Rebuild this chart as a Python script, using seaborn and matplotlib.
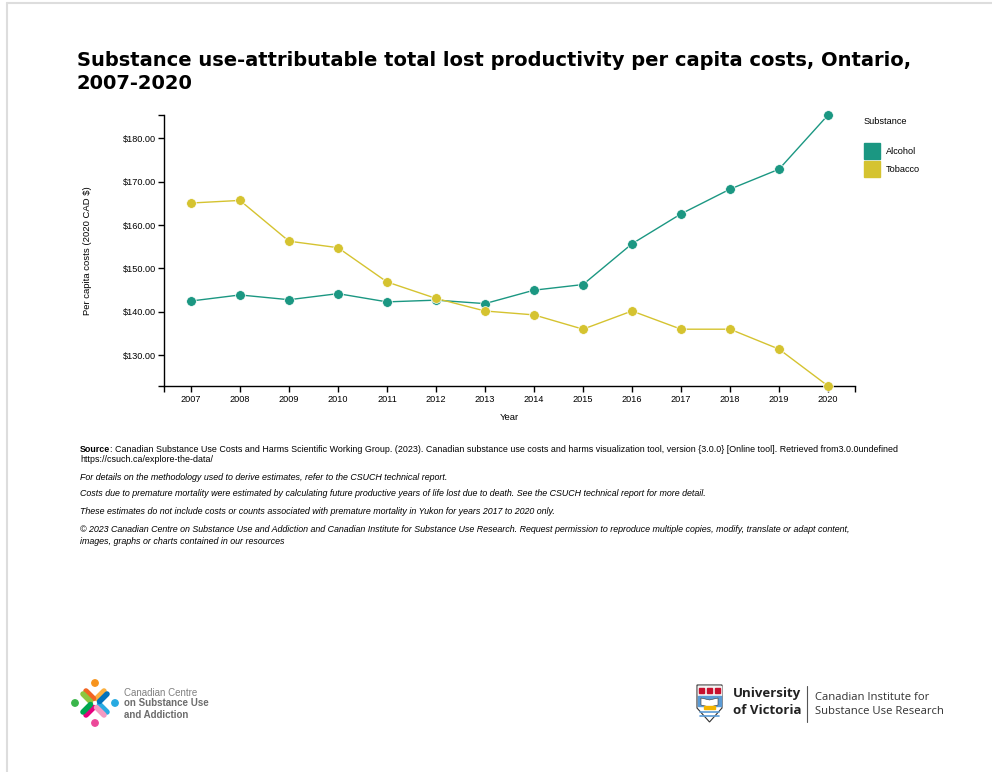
import numpy as np
import pandas as pd
import matplotlib
matplotlib.use("Agg")
import matplotlib.pyplot as plt
import seaborn as sns
from matplotlib.patches import Rectangle, Polygon, Circle
from matplotlib.lines import Line2D

# ── Données ─────────────────────────────────────────────────────
years = list(range(2007, 2021))
alcohol = [142.5, 143.9, 142.8, 144.2, 142.3, 142.7, 141.9,
           145.0, 146.3, 155.7, 162.6, 168.3, 172.9, 185.4]
tobacco = [165.1, 165.7, 156.3, 154.8, 146.9, 143.1, 140.2,
           139.3, 136.0, 140.2, 136.0, 136.0, 131.4, 122.9]
substances = ["Alcohol", "Tobacco"]
colors = ["#1b9782", "#d5c330"]
y_ticks = [130, 140, 150, 160, 170, 180]

df = pd.DataFrame({
    "Year": years * 2,
    "cost": alcohol + tobacco,
    "Substance": ["Alcohol"] * len(years) + ["Tobacco"] * len(years),
})

sns.set_style("white")
plt.rcParams["font.family"] = ["Liberation Sans", "DejaVu Sans"]
plt.rcParams["text.color"] = "black"
plt.rcParams["axes.labelcolor"] = "black"
plt.rcParams["xtick.color"] = "black"
plt.rcParams["ytick.color"] = "black"

W, H = 992, 772
fig = plt.figure(figsize=(W / 100, H / 100), dpi=100)

# axe principal, en pixels de la référence
x0, x1, y0, y1 = 164, 855, 115, 386
ax = fig.add_axes([x0 / W, 1 - y1 / H, (x1 - x0) / W, (y1 - y0) / H])

sns.lineplot(
    data=df, x="Year", y="cost", hue="Substance",
    palette=dict(zip(substances, colors)),
    marker="o", markersize=7, markeredgecolor="white", markeredgewidth=0.5,
    linewidth=1.0, ax=ax, legend=False,
)
for ln in ax.lines:
    ln.set_clip_on(False)
    ln.set_zorder(3)

ax.set_xlim(years[0] - 0.55, years[-1] + 0.55)
ax.set_ylim(min(alcohol + tobacco), max(alcohol + tobacco))
ax.set_xticks(years)
ax.set_xticklabels([str(y) for y in years])
ax.set_yticks(y_ticks)
ax.set_yticklabels([f"${v:.2f}" for v in y_ticks])
ax.set_xticks(list(ax.get_xlim()), minor=True)
ax.set_yticks(list(ax.get_ylim()), minor=True)

for s in ["top", "right"]:
    ax.spines[s].set_visible(False)
for s in ["left", "bottom"]:
    ax.spines[s].set_color("black")
    ax.spines[s].set_linewidth(1.0)
    ax.spines[s].set_zorder(2)

ax.tick_params(axis="both", which="both", direction="out", length=4.3,
               width=1.0, color="black", labelcolor="black", labelsize=6.6,
               pad=1.5, left=True, bottom=True)
ax.tick_params(axis="x", which="major", pad=2.5)

ax.set_xlabel("Year", fontsize=6.8)
ax.set_ylabel("Per capita costs (2020 CAD $)", fontsize=6.8)
ax.xaxis.set_label_coords(0.5, -31 / (y1 - y0))
ax.xaxis.label.set_va("center")
ax.yaxis.set_label_coords(-77 / (x1 - x0), 0.5)
ax.yaxis.label.set_va("center")
ax.grid(False)

# ── Décor : titre, légende, notes, logos (coordonnées pixels) ───
deco = fig.add_axes([0, 0, 1, 1], zorder=-1)
deco.set_xlim(0, W)
deco.set_ylim(H, 0)
deco.axis("off")

# cadre gris haut / gauche
deco.add_line(Line2D([7, W], [3, 3], color="#dddddd", lw=1.5))
deco.add_line(Line2D([7, 7], [3, H], color="#dddddd", lw=1.5))

title_kw = dict(fontsize=14, fontweight="bold", va="baseline", ha="left",
                family="DejaVu Sans", color="black")
deco.text(77, 66, "Substance use-attributable total lost productivity per capita costs, Ontario,",
          **title_kw)
deco.text(77, 89, "2007-2020", **title_kw)

# légende
deco.text(864, 121, "Substance", fontsize=6.6, va="center", ha="left")
for i, (lab, col) in enumerate(zip(substances, colors)):
    top = 143 + i * 18
    deco.add_patch(Rectangle((864, top), 16, 16, color=col))
    deco.text(886, top + 8, lab, fontsize=6.6, va="center", ha="left")

# notes
fs = 6.4
src = deco.text(80, 449, "Source", fontsize=fs, fontweight="bold", va="center", ha="left")
fig.canvas.draw()
bb = src.get_window_extent()
x_after = deco.transData.inverted().transform((bb.x1, bb.y0))[0]
deco.text(x_after, 449, ": Canadian Substance Use Costs and Harms Scientific Working Group. (2023). "
          "Canadian substance use costs and harms visualization tool, version {3.0.0} "
          "[Online tool]. Retrieved from3.0.0undefined",
          fontsize=fs, va="center", ha="left")
deco.text(80, 460, "https://csuch.ca/explore-the-data/", fontsize=fs, va="center")
notes = [
    (477, "For details on the methodology used to derive estimates, refer to the CSUCH technical report."),
    (494, "Costs due to premature mortality were estimated by calculating future productive years of life lost due to death. See the CSUCH technical report for more detail."),
    (512, "These estimates do not include costs or counts associated with premature mortality in Yukon for years 2017 to 2020 only."),
    (530, "© 2023 Canadian Centre on Substance Use and Addiction and Canadian Institute for Substance Use Research. Request permission to reproduce multiple copies, modify, translate or adapt content,"),
    (541, "images, graphs or charts contained in our resources"),
]
for yy, t in notes:
    deco.text(80, yy, t, fontsize=fs, style="italic", va="center")

# logo CCSA (approximation)
cx, cy = 95, 703
figs = [((0, -1), "#f7941d", "#fbb040", "#f26522"),
        ((1, 0), "#27aae1", "#29abe2", "#0072bc"),
        ((0, 1), "#ec4899", "#e6007e", "#f49ac1"),
        ((-1, 0), "#39b54a", "#8dc63f", "#00a651")]
for (dx, dy), head, c1, c2 in figs:
    deco.add_patch(Circle((cx + dx * 20, cy + dy * 20), 3.2, color=head))
    for sgn, cc in [(1, c1), (-1, c2)]:
        ux = dx - sgn * dy
        uy = dy + sgn * dx
        deco.add_line(Line2D([cx + dx * 3 + ux * 1.5, cx + dx * 3 + ux * 9],
                             [cy + dy * 3 + uy * 1.5, cy + dy * 3 + uy * 9],
                             color=cc, lw=4, solid_capstyle="round"))
deco.text(124, 692.5, "Canadian Centre", fontsize=7, color="#808080", va="center")
deco.text(124, 703.5, "on Substance Use", fontsize=7, color="#6d6d6d", fontweight="bold", va="center")
deco.text(124, 714.5, "and Addiction", fontsize=7, color="#6d6d6d", fontweight="bold", va="center")

# logo UVic (approximation)
shield = Polygon([(697, 685), (722, 685), (722, 708), (709.5, 722), (697, 708)],
                 closed=True, facecolor="white", edgecolor="#333333", lw=0.8)
deco.add_patch(shield)
deco.add_patch(Rectangle((698, 686), 23, 9, color="#f3f3f3"))
for xx in [701.5, 709.5, 717.5]:
    deco.add_patch(Rectangle((xx - 2.5, 688), 5, 5, color="#c8102e"))
deco.add_patch(Rectangle((698, 696), 23, 10, color="#5b9bd5"))
deco.add_patch(Polygon([(701, 698), (709.5, 700), (718, 698), (718, 705), (709.5, 707), (701, 705)],
                       closed=True, facecolor="white", edgecolor="#333333", lw=0.4))
deco.add_patch(Rectangle((704, 706), 11, 3, color="#f2b400"))
for yy in [712, 716]:
    deco.add_line(Line2D([700, 719], [yy, yy], color="#5b9bd5", lw=1.2))
deco.text(733, 694, "University", fontsize=9.5, fontweight="bold", color="#222222",
          va="center", family="Open Sans")
deco.text(733, 710, "of Victoria", fontsize=9.5, fontweight="bold", color="#222222",
          va="center", family="Open Sans")
deco.add_line(Line2D([806.5, 806.5], [686, 722], color="#555555", lw=0.8))
deco.text(815, 697.5, "Canadian Institute for", fontsize=8.1, color="#333333",
          va="center", family="Open Sans")
deco.text(815, 711.5, "Substance Use Research", fontsize=8.1, color="#333333",
          va="center", family="Open Sans")

fig.savefig("out.png", dpi=100)
